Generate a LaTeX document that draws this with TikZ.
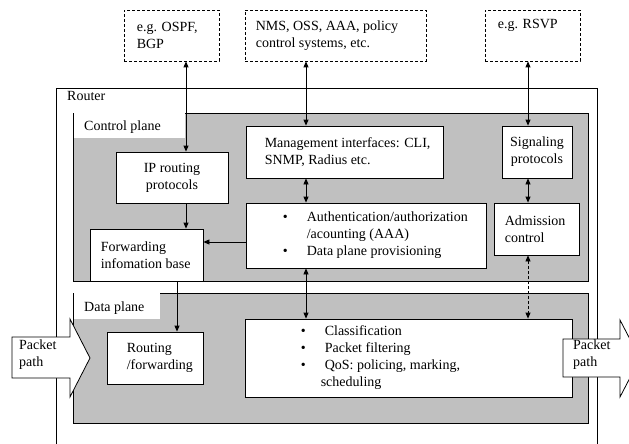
\documentclass[tikz,border=0pt]{standalone}
\usepackage{fontspec}
\setmainfont{Liberation Serif}
\usepackage{tikz}
\usetikzlibrary{positioning, arrows.meta}
\definecolor{planegray}{RGB}{192,192,192}
\newcommand{\bul}{\makebox[24pt][l]{\textbullet}}

\begin{document}
\begin{tikzpicture}[
  x=1pt, y=-1pt,
  every node/.style={font=\fontsize{14}{17}\selectfont},
  box/.style={draw, fill=white, line width=0.8pt, inner sep=0pt},
  extbox/.style={box, dash pattern=on 3pt off 2pt},
  txt/.style={inner sep=0pt, align=left},
  frame/.style={line width=0.8pt},
  pkt/.style={draw, fill=white, line width=0.8pt},
  link/.style={line width=0.8pt, -{Triangle[length=6pt,width=5pt]}},
  dlink/.style={line width=0.8pt, {Triangle[length=6pt,width=5pt]}-{Triangle[length=6pt,width=5pt]}},
]
  \useasboundingbox (0,0) rectangle (629,444);

  % Router frame (runs off the bottom edge)
  \draw[frame] (56,444) -- (56,88) -- (597,88) -- (597,444);
  \node[txt, anchor=west] (router) at (67,96) {Router};

  % Control plane and data plane
  \fill[planegray] (73,113) rectangle (588,281);
  \fill[white] (73,113) rectangle (185,138);
  \draw[frame] (185,113) -- (588,113) -- (588,281) -- (73,281) -- (73,113);
  \node[txt, anchor=west] (cplane) at (84,127) {Control plane};

  \fill[planegray] (73,293) rectangle (588,423);
  \fill[white] (73,293) rectangle (160,319);
  \draw[frame] (160,293) -- (588,293) -- (588,423) -- (73,423) -- (73,293);
  \node[txt, anchor=west] (dplane) at (84,308) {Data plane};

  % Outside systems
  \node[extbox, minimum width=95pt, minimum height=51pt] (ospf) at (171.5,35.5) {};
  \node[txt, right=13pt of ospf.west] (ospf-t) {e.g. OSPF,\\BGP};
  \node[extbox, minimum width=181pt, minimum height=51pt] (nms) at (335.5,35.5) {};
  \node[txt, right=11pt of nms.west] (nms-t) {NMS, OSS, AAA, policy\\control systems, etc.};
  \node[extbox, minimum width=95pt, minimum height=51pt] (rsvp) at (532.5,35.5) {};
  \node[txt, anchor=north west, below right=9pt and 13pt of rsvp.north west] (rsvp-t) {e.g. RSVP};

  % Control plane boxes
  \node[box, minimum width=112pt, minimum height=51pt, align=center] (iprout) at (172,177.5) {IP routing\\protocols};
  \node[box, minimum width=197pt, minimum height=52pt] (mgmt) at (344.5,152) {};
  \node[txt, right=19pt of mgmt.west] (mgmt-t) {Management interfaces: CLI,\\SNMP, Radius etc.};
  \node[box, minimum width=70pt, minimum height=52pt, align=center] (signal) at (537,152) {Signaling\\protocols};
  \node[box, minimum width=113pt, minimum height=52pt] (fib) at (146.5,255) {};
  \node[txt, right=11pt of fib.west] (fib-t) {Forwarding\\infomation base};
  \node[box, minimum width=240pt, minimum height=65pt] (aaa) at (366,235.5) {};
  \node[txt, right=37pt of aaa.west] (aaa-t)
    {\bul Authentication/authorization\\\hspace*{24pt}/acounting (AAA)\\\bul Data plane provisioning};
  \node[box, minimum width=85pt, minimum height=52pt] (admis) at (536.5,229) {};
  \node[txt, right=11pt of admis.west] (admis-t) {Admission\\control};

  % Data plane boxes
  \node[box, minimum width=96pt, minimum height=52pt] (routing) at (155,358) {};
  \node[txt, right=20pt of routing.west] (routing-t) {Routing\\/forwarding};
  \node[box, minimum width=327pt, minimum height=78pt] (classif) at (408.5,358) {};
  \node[txt, right=56pt of classif.west] (classif-t)
    {\bul Classification\\\bul Packet filtering\\\bul QoS: policing, marking,\\\hspace*{20pt}scheduling};

  % Connectors
  \coordinate (colA) at (186,0);
  \coordinate (colB) at (306,0);
  \coordinate (colC) at (528,0);
  \coordinate (colD) at (177,0);
  \coordinate (rowA) at (0,242);
  \draw[dlink] (ospf.south -| colA) -- (iprout.north -| colA);
  \draw[dlink] (nms.south -| colB) -- (mgmt.north -| colB);
  \draw[dlink] (rsvp.south -| colC) -- (signal.north -| colC);
  \draw[dlink] (mgmt.south -| colB) -- (aaa.north -| colB);
  \draw[dlink] (signal.south -| colC) -- (admis.north -| colC);
  \draw[link] (iprout.south -| colA) -- (fib.north -| colA);
  \draw[link] (aaa.west |- rowA) -- (fib.east |- rowA);
  \draw[link] (fib.south -| colD) -- (routing.north -| colD);
  \draw[dlink] (aaa.south -| colB) -- (classif.north -| colB);
  \draw[dlink, dash pattern=on 3pt off 2pt] (admis.south -| colC) -- (classif.north -| colC);

  % Packet path arrows
  \draw[pkt] (12,337) -- (70,337) -- (70,319) -- (90,358) -- (70,397) -- (70,378) -- (12,378) -- cycle;
  \node[txt, anchor=west] (pin) at (19,355) {Packet\\path};
  \begin{scope}
    \clip (0,0) rectangle (629,444);
    \draw[pkt] (563,339) -- (620,339) -- (620,320) -- (640,358.5) -- (620,397) -- (620,377) -- (563,377) -- cycle;
  \end{scope}
  \node[txt, anchor=west] (pout) at (573,355) {Packet\\path};
\end{tikzpicture}
\end{document}
